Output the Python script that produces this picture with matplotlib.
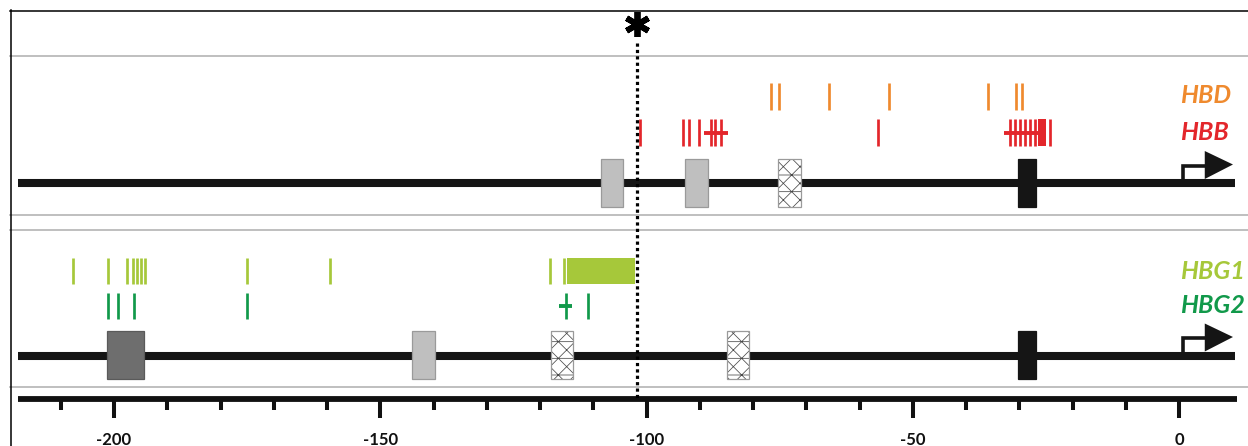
import matplotlib
matplotlib.use("Agg")
import matplotlib.pyplot as plt
from matplotlib.patches import Rectangle, Polygon

# ---------------- data (bp relative to transcription start site) ----------------
HBD_marks = [-76.7, -75.2, -65.8, -54.5, -35.9, -30.6, -29.5]
HBB_marks = [-101.2, -93.1, -92.0, -90.2, -88.0, -87.1, -86.0, -56.6,
             -31.8, -30.8, -29.9, -28.9, -28.0, -27.1, -24.3]
HBB_spans = [(-89.3, -84.8), (-32.9, -26.1)]
HBB_blocks = [(-26.5, -25.0)]
HBG1_marks = [-207.7, -201.1, -197.5, -196.5, -195.7, -194.9, -194.2,
              -175.0, -159.4, -118.1, -115.5]
HBG1_blocks = [(-114.9, -102.2)]
HBG2_marks = [-201.1, -199.2, -196.2, -175.0, -115.1, -111.0]
HBG2_spans = [(-116.4, -114.0)]

upper_box_start = [-108.6, -92.8, -75.3, -30.3]
upper_box_end = [-104.4, -88.5, -71.0, -26.9]
upper_box_kind = ["gray", "gray", "mesh", "black"]
lower_box_start = [-201.3, -144.1, -117.9, -84.9, -30.3]
lower_box_end = [-194.4, -139.8, -113.8, -80.8, -26.9]
lower_box_kind = ["dark", "gray", "mesh", "mesh", "black"]

star_pos = -101.8
gene_start, gene_end = -218.0, 10.5
major_ticks = [-200, -150, -100, -50, 0]
minor_ticks = [-210, -190, -180, -170, -160, -140, -130, -120, -110,
               -90, -80, -70, -60, -40, -30, -20, -10]
gene_names = ["HBD", "HBB", "HBG1", "HBG2"]

# ---------------- style ----------------
C_HBD = "#ef8a2e"
C_HBB = "#e3262b"
C_HBG1 = "#a6c83a"
C_HBG2 = "#11994a"
KIND_FACE = {"gray": "#bfbfbf", "dark": "#6e6e6e", "black": "#151515", "mesh": "white"}
KIND_EDGE = {"gray": "#9a9a9a", "dark": "#5a5a5a", "black": "#151515", "mesh": "#9a9a9a"}
plt.rcParams["hatch.linewidth"] = 0.55

W, H = 1248, 446
fig = plt.figure(figsize=(W / 100, H / 100), dpi=100)
fig.patch.set_facecolor("white")

# layout axes in pixel units (frame and separators)
lay = fig.add_axes([0, 0, 1, 1])
lay.set_xlim(0, W)
lay.set_ylim(H, 0)
lay.axis("off")
for yy in [56, 215, 230, 387]:
    lay.plot([10, W], [yy, yy], color="#b4b4b4", lw=1.2)
lay.plot([10, W], [10.5, 10.5], color="black", lw=1.1)
lay.plot([10.5, 10.5], [10, H], color="black", lw=1.1)

# data axes: x in bp, y in pixel rows
ax = fig.add_axes([0, 0, 1, 1])
ax.patch.set_alpha(0)
x_px0 = 1179.2
x_scale = 5.326
ax.set_xlim(-x_px0 / x_scale, (W - x_px0) / x_scale)
ax.set_ylim(H, 0)
ax.axis("off")

MARK_LW = 1.95


def marks(xs, y0, y1, color):
    ax.vlines(xs, y0, y1, colors=color, lw=MARK_LW, capstyle="butt")


def spans(sp, yc, color, lw=2.8):
    for a, b in sp:
        ax.plot([a, b], [yc, yc], color=color, lw=lw, solid_capstyle="butt")


def blocks(bl, y0, y1, color):
    for a, b in bl:
        ax.add_patch(Rectangle((a, y0), b - a, y1 - y0, facecolor=color, edgecolor="none"))


def gene_track(yc, starts, ends, kinds):
    ax.plot([gene_start, gene_end], [yc, yc], color="#151515", lw=5.8,
            solid_capstyle="butt", zorder=2)
    for a, b, k in zip(starts, ends, kinds):
        y0, hgt = yc - 24.5, 48
        if k == "mesh":
            ax.add_patch(Rectangle((a, y0), b - a, hgt, facecolor="white",
                                   edgecolor="#4a4a4a", lw=0, hatch="xx-", zorder=3))
            ax.add_patch(Rectangle((a, y0), b - a, hgt, facecolor="none",
                                   edgecolor=KIND_EDGE[k], lw=0.9, zorder=4))
        else:
            ax.add_patch(Rectangle((a, y0), b - a, hgt, facecolor=KIND_FACE[k],
                                   edgecolor=KIND_EDGE[k], lw=0.9, zorder=3))
    # bent transcription arrow
    ax.plot([0.7, 0.7, 5.3], [yc, yc - 17.5, yc - 17.5], color="#151515", lw=2.6,
            solid_joinstyle="miter", solid_capstyle="butt", zorder=4)
    ax.add_patch(Polygon([(4.8, yc - 32), (4.8, yc - 4), (10.1, yc - 18.5)],
                         closed=True, facecolor="#151515", edgecolor="none", zorder=4))


# upper locus (HBD / HBB)
gene_track(183, upper_box_start, upper_box_end, upper_box_kind)
marks(HBD_marks, 83, 110, C_HBD)
marks(HBB_marks, 119, 146, C_HBB)
spans(HBB_spans, 133, C_HBB)
blocks(HBB_blocks, 119, 146, C_HBB)

# lower locus (HBG1 / HBG2)
gene_track(355.5, lower_box_start, lower_box_end, lower_box_kind)
marks(HBG1_marks, 258, 284, C_HBG1)
blocks(HBG1_blocks, 258, 284, C_HBG1)
marks(HBG2_marks, 293, 319, C_HBG2)
spans(HBG2_spans, 306, C_HBG2)

# gene labels
lab_font = dict(family="Lato", fontweight="bold", style="italic", fontsize=18)
for name, yb, col in zip(gene_names, [103, 140, 279, 313], [C_HBD, C_HBB, C_HBG1, C_HBG2]):
    ax.text(0.1, yb, name, color=col, ha="left", va="baseline", zorder=5, **lab_font)

# star and dotted line (stops at the position axis)
ax.plot([star_pos, star_pos], [43, 400], color="black", lw=2.3,
        linestyle=(0, (1, 1)), zorder=6)
ax.plot([star_pos], [24], marker=(6, 2, 0), ms=18, mew=4.2, color="black", zorder=6)

# position axis
ax.plot([gene_start, 10.9], [399, 399], color="#111111", lw=4.2, solid_capstyle="butt")
ax.vlines(major_ticks, 399, 418, colors="#111111", lw=2.9, capstyle="butt")
ax.vlines(minor_ticks, 399, 410, colors="#111111", lw=2.9, capstyle="butt")
for t in major_ticks:
    ax.text(t, 445, str(t), ha="center", va="baseline", family="Lato",
            fontweight="bold", fontsize=12, color="#111111")

fig.savefig("out.png", dpi=100, facecolor="white")
